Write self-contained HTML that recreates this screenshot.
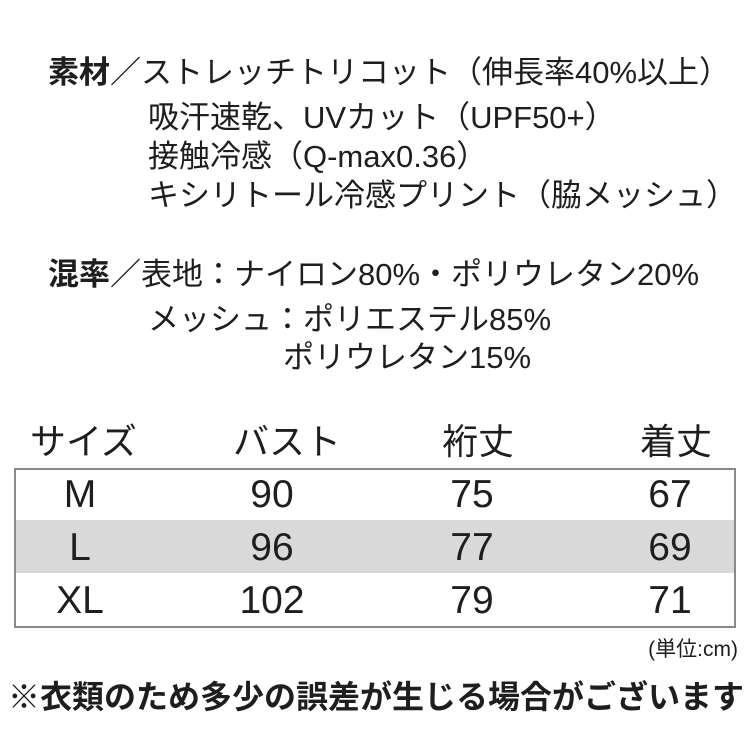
<!DOCTYPE html><html><head><meta charset="utf-8"><style>
body{margin:0;width:750px;height:750px;background:#fff;position:relative;overflow:hidden;font-family:"Liberation Sans","Noto Sans CJK JP",sans-serif;color:#1e1e1e}
.t{position:absolute;white-space:nowrap;font-size:31px;line-height:1}
.h{position:absolute;white-space:nowrap;font-size:36px;line-height:1}
.c{position:absolute;font-size:39px;line-height:1;text-align:center;width:200px}
b{font-weight:bold}
</style></head><body>
<div class="t" style="left:48px;top:57px"><b>素材</b>／ストレッチトリコット（伸長率40%以上）</div>
<div class="t" style="left:148px;top:102px">吸汗速乾、UVカット（UPF50+）</div>
<div class="t" style="left:148px;top:141px">接触冷感（Q-max0.36）</div>
<div class="t" style="left:148px;top:180px">キシリトール冷感プリント（脇メッシュ）</div>
<div class="t" style="left:48px;top:259px"><b>混率</b>／表地：ナイロン80%・ポリウレタン20%</div>
<div class="t" style="left:148px;top:304px">メッシュ：ポリエステル85%</div>
<div class="t" style="left:283px;top:342px">ポリウレタン15%</div>
<div class="h" style="left:30px;top:424px">サイズ</div>
<div class="h" style="left:233px;top:424px">バスト</div>
<div class="h" style="left:442px;top:424px">裄丈</div>
<div class="h" style="left:640px;top:424px">着丈</div>
<div style="position:absolute;left:14px;top:468px;width:718px;height:156px;border:2px solid #8a8a8a"></div>
<div style="position:absolute;left:16px;top:520px;width:718px;height:53px;background:#d9d9d9"></div>
<div class="c" style="left:-20px;top:475px">M</div><div class="c" style="left:172px;top:475px">90</div><div class="c" style="left:372px;top:475px">75</div><div class="c" style="left:570px;top:475px">67</div>
<div class="c" style="left:-20px;top:528px">L</div><div class="c" style="left:172px;top:528px">96</div><div class="c" style="left:372px;top:528px">77</div><div class="c" style="left:570px;top:528px">69</div>
<div class="c" style="left:-20px;top:581px">XL</div><div class="c" style="left:172px;top:581px">102</div><div class="c" style="left:372px;top:581px">79</div><div class="c" style="left:570px;top:581px">71</div>
<div class="t" style="right:12px;top:639px;font-size:21px">(単位:cm)</div>
<div class="t" style="left:8px;top:681px;font-weight:bold;font-size:32px">※衣類のため多少の誤差が生じる場合がございます</div>
</body></html>
